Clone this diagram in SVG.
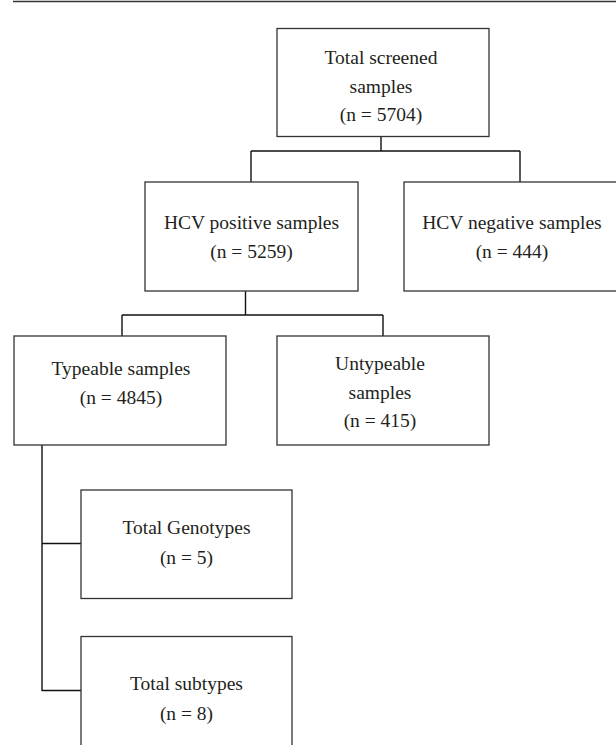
<svg xmlns="http://www.w3.org/2000/svg" width="616" height="745" viewBox="0 0 616 745">
<style>
.box{fill:#fff;stroke:#333;stroke-width:1.3}
.lbl{font-family:"Liberation Serif","Times New Roman",serif;font-size:19.5px;fill:#231f20;text-anchor:middle}
.conn{fill:none;stroke:#111;stroke-width:1.4}
</style>
<rect width="616" height="745" fill="#fff"/>
<line x1="13" y1="1.5" x2="616" y2="1.5" stroke="#333" stroke-width="1.6"/>
<g id="connectors">
<path class="conn" d="M381,137 V151 M251,151 H520 M251,151 V182 M520,151 V182"/>
<path class="conn" d="M245.5,291 V315 M122,315 H383 M122,315 V336 M383,315 V336"/>
<path class="conn" d="M42,445 V691 M42,543.5 H81 M42,690.5 H81"/>
</g>
<g id="total">
<rect class="box" x="277" y="28.5" width="212" height="108"/>
<text class="lbl" x="381" y="64">Total screened</text>
<text class="lbl" x="381" y="92.5">samples</text>
<text class="lbl" x="381" y="121">(n = 5704)</text>
</g>
<g id="positive">
<rect class="box" x="145" y="182" width="213" height="109"/>
<text class="lbl" x="251.5" y="229">HCV positive samples</text>
<text class="lbl" x="251.5" y="258">(n = 5259)</text>
</g>
<g id="negative">
<rect class="box" x="404" y="182" width="215" height="109"/>
<text class="lbl" x="512" y="229">HCV negative samples</text>
<text class="lbl" x="512" y="258">(n = 444)</text>
</g>
<g id="typeable">
<rect class="box" x="14" y="336" width="212" height="109"/>
<text class="lbl" x="121" y="375">Typeable samples</text>
<text class="lbl" x="121" y="404">(n = 4845)</text>
</g>
<g id="untypeable">
<rect class="box" x="277" y="336" width="212" height="109"/>
<text class="lbl" x="380" y="370">Untypeable</text>
<text class="lbl" x="380" y="398.5">samples</text>
<text class="lbl" x="380" y="426.5">(n = 415)</text>
</g>
<g id="genotypes">
<rect class="box" x="81" y="490" width="211" height="108.5"/>
<text class="lbl" x="186.5" y="533.5">Total Genotypes</text>
<text class="lbl" x="186.5" y="563.5">(n = 5)</text>
</g>
<g id="subtypes">
<rect class="box" x="81" y="636.5" width="211" height="120"/>
<text class="lbl" x="186.5" y="690">Total subtypes</text>
<text class="lbl" x="186.5" y="719.5">(n = 8)</text>
</g>
</svg>
